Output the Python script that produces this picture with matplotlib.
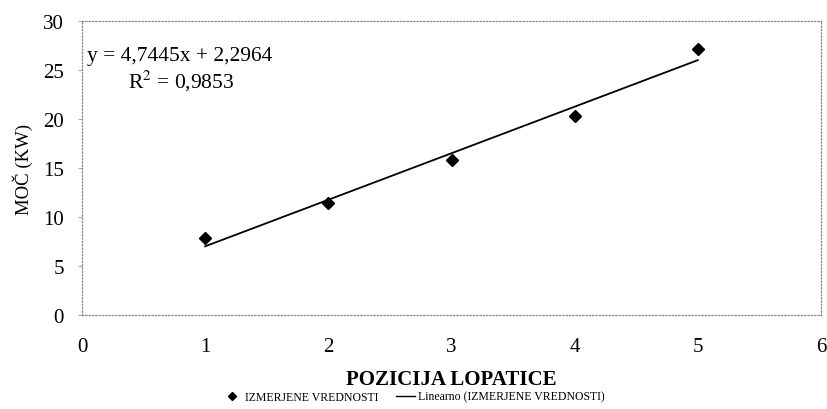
import numpy as np
import matplotlib.pyplot as plt
from matplotlib.lines import Line2D

plt.rcParams['font.family'] = ['Liberation Serif', 'DejaVu Serif']
plt.rcParams['mathtext.fontset'] = 'stix'

# izmerjene vrednosti
pozicija = [1, 2, 3, 4, 5]
moc = [7.9, 11.4, 15.8, 20.3, 27.2]
enacba = "y = 4,7445x + 2,2964"
r2_text = "R$^2$ = 0,9853"

k, n = np.polyfit(pozicija, moc, 1)
x_fit = np.array([pozicija[0], pozicija[-1]])
y_fit = k * x_fit + n

fig = plt.figure(figsize=(8.27, 4.10), dpi=100)
ax = fig.add_axes([0.0992, 0.229, 0.8935, 0.717])

ax.plot(pozicija, moc, 'D', color='black', ms=6, label='IZMERJENE VREDNOSTI')
ax.plot(x_fit, y_fit, '-', color='black', lw=1.3, label='Linearno (IZMERJENE VREDNOSTI)')

ax.set_xlim(0, 6)
ax.set_ylim(0, 30)
ax.set_xticks(range(0, 7))
ax.set_yticks(range(0, 31, 5))
ax.tick_params(axis='x', length=0, pad=16, labelsize=15)
ax.tick_params(axis='y', length=3, width=0.6, color='#999999', pad=10, labelsize=15)

for s in ax.spines.values():
    s.set_linestyle(':')
    s.set_color('#888888')
    s.set_linewidth(0.9)

ax.set_ylabel('MOČ (KW)', fontsize=13.5, labelpad=7)
ax.set_xlabel('POZICIJA LOPATICE', fontsize=15, fontweight='bold', va='center')
ax.xaxis.set_label_coords(0.5, -0.218)

ax.text(0.04, 26.5, enacba, fontsize=15.5, ha='left', va='center')
ax.text(0.37, 23.9, r2_text, fontsize=15.5, ha='left', va='center')

handles = [Line2D([], [], marker='D', color='black', ls='none', ms=4),
           Line2D([], [], color='black', lw=1.0)]
fig.legend(handles, ['IZMERJENE VREDNOSTI', 'Linearno (IZMERJENE VREDNOSTI)'],
           loc='center', bbox_to_anchor=(0.5, 0.03), ncol=2, frameon=False,
           fontsize=8.5, handlelength=1.6, handletextpad=0.3, columnspacing=1.5)

fig.savefig('out.png', dpi=100)
